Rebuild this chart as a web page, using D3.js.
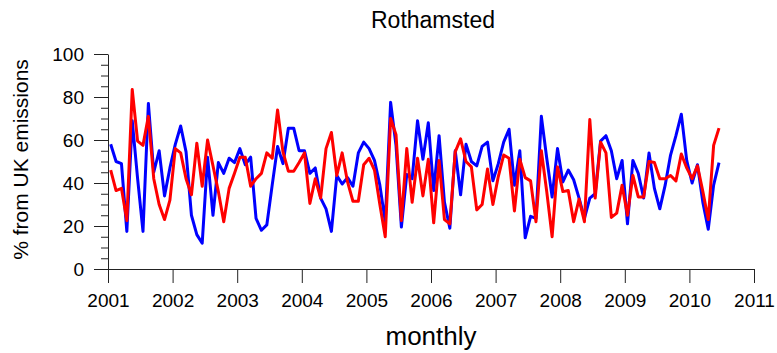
<!DOCTYPE html>
<html>
<head>
<meta charset="utf-8">
<script src="https://cdn.jsdelivr.net/npm/d3@7"></script>
<style>
  html, body { margin: 0; padding: 0; background: #fff; }
  svg { display: block; font-family: "Liberation Sans", Arial, Helvetica, sans-serif; }
</style>
</head>
<body>
<svg id="chart" width="777" height="353"></svg>
<script>
// ---- Data (monthly, Jan 2001 - Jun 2010) ----
const startYear = 2001;
const blueSeries = [
  58, 50, 49, 17.5, 69, 42, 17.5, 77, 45, 55, 34, 47,
  58, 66.5, 54.5, 25, 16, 12, 52, 25, 49.5, 44.5, 51.5, 49.5,
  56, 48.5, 52, 23.5, 18, 20.5, 39, 57, 49, 65.5, 65.5, 55,
  55, 44.5, 47, 33, 28, 17.5, 43.5, 39.5, 42.5, 38.5, 54, 59,
  56, 50.5, 39, 22, 77.5, 57.5, 19.5, 44, 42, 69, 51, 68,
  36.5, 62, 31, 19, 55, 34.5, 58, 50, 48, 57, 59, 41,
  49, 59, 65, 39, 55, 14.5, 24.5, 23.5, 71, 51.5, 33.5, 56,
  40.5, 46, 41.5, 33, 23.5, 33, 35, 59.5, 62, 55, 42, 50.5,
  21, 50.5, 44.5, 33, 54, 37.5, 28, 39, 53, 62, 72, 50.5,
  40, 48.5, 31, 18.5, 39, 49.5
];
const redSeries = [
  46, 36.5, 37.5, 22.5, 83.5, 59.5, 57.5, 71, 42, 30, 23, 32,
  56, 54, 42, 34.5, 58.5, 38.5, 60, 48, 36, 22, 37.5, 44.5,
  52, 52, 38.5, 42, 44.5, 54, 51.5, 74, 54.5, 45.5, 45.5, 49.5,
  54, 30.5, 42, 33, 56, 63.5, 43.5, 54, 40.5, 31.5, 31.5, 48.5,
  51.5, 46, 30, 15, 70, 62.5, 22.5, 56, 31, 51.5, 34, 51,
  21.5, 50.5, 23, 21, 54.5, 60.5, 50, 47.5, 27.5, 30, 46.5, 30,
  43, 53, 51.5, 27, 51, 42.5, 41, 22, 55, 36, 15, 47.5,
  36, 36.5, 22, 32.5, 22, 69.5, 33, 59, 54, 24, 26, 39,
  25, 43.5, 33.5, 33.5, 50, 49.5, 42, 42, 43.5, 41, 53.5, 47,
  42, 48, 36, 23, 57.5, 65.5
];
const xTickYears = [2001, 2002, 2003, 2004, 2005, 2006, 2007, 2008, 2009, 2010, 2011];
const yTickValues = [0, 20, 40, 60, 80, 100];
const titleText = "Rothamsted";
const xAxisTitle = "monthly";
const yAxisTitle = "% from UK emissions";

// ---- Layout ----
const svg = d3.select("#chart");
const mLeft = 108, mRight = 754, mTop = 54, mBottom = 269;

const x = d3.scaleLinear().domain([2001, 2011]).range([mLeft, mRight]);
const y = d3.scaleLinear().domain([0, 100]).range([mBottom, mTop]);

const axisColor = "#222";

// X axis
const xAxis = d3.axisBottom(x)
  .tickValues(xTickYears)
  .tickFormat(d3.format("d"))
  .tickSizeInner(14)
  .tickSizeOuter(0)
  .tickPadding(11);
const gx = svg.append("g").attr("transform", `translate(0,${mBottom})`).call(xAxis);
gx.select(".domain").attr("stroke", axisColor);
gx.selectAll(".tick line").attr("stroke", axisColor);
gx.selectAll(".tick text").attr("font-size", 19).attr("fill", "#000")
  .attr("font-family", "Liberation Sans, Arial, sans-serif");

// Y axis minor ticks
const yMinor = d3.axisLeft(y)
  .tickValues(d3.range(0, 101, 5).filter(v => v % 20 !== 0))
  .tickSize(7).tickFormat("");
const gym = svg.append("g").attr("transform", `translate(${mLeft},0)`).call(yMinor);
gym.select(".domain").remove();
gym.selectAll(".tick line").attr("stroke", axisColor);

// Y axis major
const yAxis = d3.axisLeft(y)
  .tickValues(yTickValues)
  .tickSizeInner(14)
  .tickSizeOuter(0)
  .tickPadding(10);
const gy = svg.append("g").attr("transform", `translate(${mLeft},0)`).call(yAxis);
gy.select(".domain").attr("stroke", axisColor);
gy.selectAll(".tick line").attr("stroke", axisColor);
gy.selectAll(".tick text").attr("font-size", 19).attr("fill", "#000")
  .attr("font-family", "Liberation Sans, Arial, sans-serif");

// Lines
const monthX = i => x(startYear + (i + 0.5) / 12);
const lineGen = d3.line().x((d, i) => monthX(i)).y(d => y(d));

svg.append("path").datum(blueSeries)
  .attr("d", lineGen).attr("fill", "none")
  .attr("stroke", "#0000ff").attr("stroke-width", 3).attr("stroke-linejoin", "round");
svg.append("path").datum(redSeries)
  .attr("d", lineGen).attr("fill", "none")
  .attr("stroke", "#ff0000").attr("stroke-width", 3).attr("stroke-linejoin", "round");

// Titles
svg.append("text").attr("x", (mLeft + mRight) / 2 + 2).attr("y", 28)
  .attr("text-anchor", "middle").attr("font-size", 23).attr("fill", "#000")
  .text(titleText);
svg.append("text").attr("x", (mLeft + mRight) / 2).attr("y", 345)
  .attr("text-anchor", "middle").attr("font-size", 26).attr("fill", "#000")
  .text(xAxisTitle);
svg.append("text")
  .attr("transform", `translate(28,${(mTop + mBottom) / 2 - 2}) rotate(-90)`)
  .attr("text-anchor", "middle").attr("font-size", 21).attr("fill", "#000")
  .text(yAxisTitle);
</script>
</body>
</html>
